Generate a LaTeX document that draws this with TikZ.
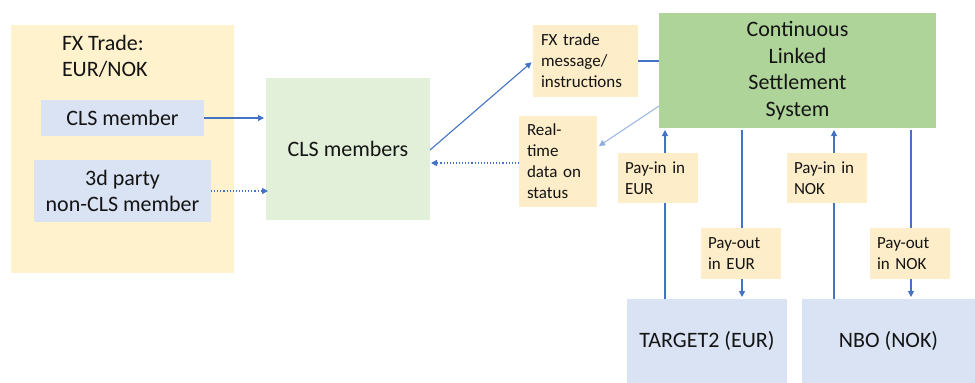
\documentclass[tikz,border=0pt]{standalone}
\usepackage{fontspec}
\setmainfont{Carlito}
\usetikzlibrary{arrows.meta,calc}
\definecolor{gold}{HTML}{FFF2CC}
\definecolor{lab}{HTML}{FDEDC8}
\definecolor{bluebox}{HTML}{DAE3F3}
\definecolor{lgreen}{HTML}{E2F0D9}
\definecolor{dgreen}{HTML}{AED49A}
\definecolor{arr}{HTML}{4472C4}
\definecolor{larr}{HTML}{8FAADC}
\definecolor{txt}{HTML}{141414}
\tikzset{
  box/.style={inner sep=0pt, outer sep=0pt, text=txt, align=center},
  big/.style={font=\fontsize{22}{26.5}\selectfont},
  small/.style={font=\fontsize{17}{21}\selectfont},
  labbox/.style={box, fill=lab, small},
  conn/.style={draw=arr, line width=1.1pt, -{Triangle[length=6pt,width=6pt]}},
  plain/.style={draw=arr, line width=1.1pt},
  dotconn/.style={conn, dotted, line width=1.2pt},
}
\begin{document}
\begin{tikzpicture}[x=1pt,y=-1pt]
\useasboundingbox (0,0) rectangle (975,383);
% big boxes
\node[box, fill=gold, minimum width=223pt, minimum height=248pt] (outer) at (122.5,149) {};
\node[box, big, anchor=north west, align=left] (title) at (62,35) {FX Trade:\\EUR/NOK};
\node[box, big, fill=bluebox, minimum width=163pt, minimum height=36pt] (clsm) at (122.5,118) {CLS member};
\node[box, big, fill=bluebox, minimum width=177pt, minimum height=62pt] (third) at (122.5,191) {3d party\\non-CLS member};
\node[box, big, fill=lgreen, minimum width=164pt, minimum height=142pt] (members) at (348,149) {CLS members};
\node[box, big, fill=dgreen, minimum width=277pt, minimum height=115pt] (system) at (797.5,70.5) {Continuous\\Linked\\Settlement\\System};
\node[box, big, fill=bluebox, minimum width=160pt, minimum height=84pt] (target) at (707,341) {TARGET2 (EUR)};
\node[box, big, fill=bluebox, minimum width=173pt, minimum height=84pt] (nbo) at (888.5,341) {NBO (NOK)};
\node[labbox, minimum width=105pt, minimum height=72pt, text width=89pt, align=left] (fxmsg) at (585.5,61) {FX trade\\message/\\instructions};
\node[labbox, minimum width=78pt, minimum height=91pt, text width=62pt, align=left] (realtime) at (558,161.5) {Real-\\time\\data on\\status};
% connectors
\draw[conn, shorten >=2pt] (clsm.east) -- (clsm.east -| members.west);
\draw[dotconn, shorten >=-2pt] (third.east) -- (third.east -| members.west);
\coordinate (m1) at (430,150);
\draw[conn, shorten >=2pt] (m1) -- (fxmsg.west);
\draw[plain] (fxmsg.east) -- (fxmsg.east -| system.west);
\coordinate (s1) at (659,106);
\coordinate (r1) at (599,146);
\draw[conn, draw=larr, line width=0.9pt] (s1) -- (r1);
\draw[dotconn, shorten >=1pt] (realtime.west |- 0,163) -- (members.east |- 0,163);
\coordinate (xa) at (665,0);
\coordinate (xb) at (742,0);
\coordinate (xc) at (834,0);
\coordinate (xd) at (911,0);
\draw[conn, shorten >=2pt] (xa |- target.north) -- (xa |- system.south);
\draw[conn, shorten >=2pt, shorten <=2pt] (xb |- system.south) -- (xb |- target.north);
\draw[conn, shorten >=2pt] (xc |- nbo.north) -- (xc |- system.south);
\draw[conn, shorten >=2pt, shorten <=2pt] (xd |- system.south) -- (xd |- nbo.north);
% labels on vertical lines
\node[labbox, minimum width=80pt, minimum height=50pt, text width=66pt, align=left] (payineur) at (658,178) {Pay-in in\\EUR};
\node[labbox, minimum width=80pt, minimum height=51pt, text width=66pt, align=left] (payouteur) at (741,253.5) {Pay-out\\in EUR};
\node[labbox, minimum width=80pt, minimum height=50pt, text width=66pt, align=left] (payinnok) at (827,178) {Pay-in in\\NOK};
\node[labbox, minimum width=80pt, minimum height=51pt, text width=66pt, align=left] (payoutnok) at (910,253.5) {Pay-out\\in NOK};
\end{tikzpicture}
\end{document}
